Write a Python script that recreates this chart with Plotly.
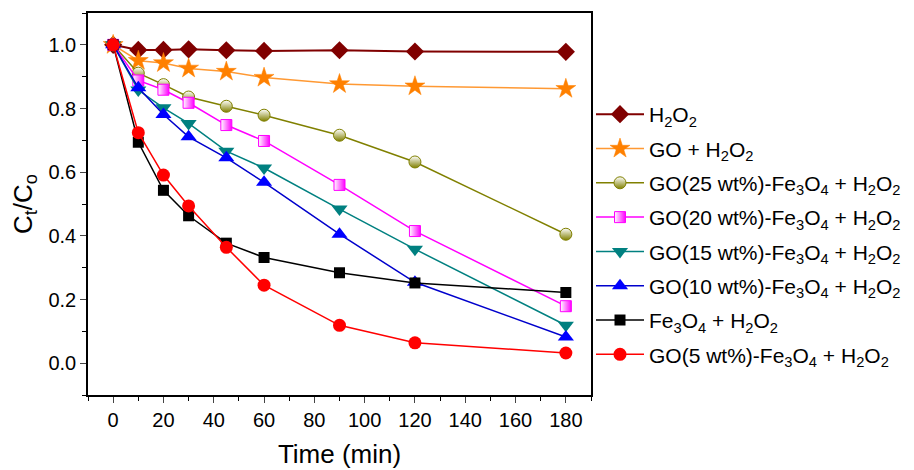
import plotly.graph_objects as go

time = [0, 10, 20, 30, 45, 60, 90, 120, 180]

names = [
    "H<sub>2</sub>O<sub>2</sub>",
    "GO + H<sub>2</sub>O<sub>2</sub>",
    "GO(25 wt%)-Fe<sub>3</sub>O<sub>4</sub> + H<sub>2</sub>O<sub>2</sub>",
    "GO(20 wt%)-Fe<sub>3</sub>O<sub>4</sub> + H<sub>2</sub>O<sub>2</sub>",
    "GO(15 wt%)-Fe<sub>3</sub>O<sub>4</sub> + H<sub>2</sub>O<sub>2</sub>",
    "GO(10 wt%)-Fe<sub>3</sub>O<sub>4</sub> + H<sub>2</sub>O<sub>2</sub>",
    "Fe<sub>3</sub>O<sub>4</sub> + H<sub>2</sub>O<sub>2</sub>",
    "GO(5 wt%)-Fe<sub>3</sub>O<sub>4</sub> + H<sub>2</sub>O<sub>2</sub>",
]

h2o2 = [1.0, 0.984, 0.984, 0.986, 0.983, 0.981, 0.983, 0.979, 0.978]
go_h2o2 = [1.0, 0.950, 0.943, 0.926, 0.916, 0.897, 0.877, 0.870, 0.862]
go25 = [1.0, 0.911, 0.875, 0.836, 0.807, 0.779, 0.716, 0.632, 0.405]
go20 = [1.0, 0.888, 0.859, 0.818, 0.748, 0.698, 0.560, 0.415, 0.179]
go15 = [1.0, 0.858, 0.802, 0.753, 0.666, 0.613, 0.484, 0.358, 0.119]
go10 = [1.0, 0.865, 0.781, 0.711, 0.645, 0.568, 0.405, 0.254, 0.082]
fe3o4 = [1.0, 0.694, 0.543, 0.463, 0.377, 0.332, 0.284, 0.252, 0.222]
go5 = [1.0, 0.724, 0.591, 0.494, 0.364, 0.245, 0.119, 0.064, 0.032]

series = [h2o2, go_h2o2, go25, go20, go15, go10, fe3o4, go5]

styles = [
    dict(line="#800000", lw=2, marker=dict(symbol="diamond", size=14, color="#800000")),
    dict(line="#FF9933", lw=1.5, marker=dict(symbol="star", size=15, color="#FF8000",
                                             line=dict(color="#FF8000", width=0.5))),
    dict(line="#808000", lw=1.5, marker=dict(symbol="circle", size=12, color="white",
                                             gradient=dict(type="vertical", color="#808000"),
                                             line=dict(color="#808000", width=1))),
    dict(line="#FF00FF", lw=1.5, marker=dict(symbol="square", size=11, color="white",
                                             gradient=dict(type="horizontal", color="#FF00FF"),
                                             line=dict(color="#FF00FF", width=1))),
    dict(line="#008080", lw=1.5, marker=dict(symbol="triangle-down", size=14, color="#008080")),
    dict(line="#0000CC", lw=1.5, marker=dict(symbol="triangle-up", size=14, color="#0000FF")),
    dict(line="#000000", lw=1.5, marker=dict(symbol="square", size=11, color="#000000")),
    dict(line="#FF0000", lw=1.5, marker=dict(symbol="circle", size=13, color="#FF0000")),
]

fig = go.Figure()
for i, (nm, ys, st) in enumerate(zip(names, series, styles)):
    fig.add_trace(go.Scatter(
        x=time, y=ys, name=nm, mode="lines+markers",
        line=dict(color=st["line"], width=st["lw"]),
        marker=st["marker"], legendgroup=str(i),
    ))

font = "Arial, Liberation Sans, sans-serif"
fig.update_layout(
    width=906, height=462,
    margin=dict(l=80, r=323, t=5, b=75, autoexpand=False),
    plot_bgcolor="white", paper_bgcolor="white",
    font=dict(family=font, size=20, color="black"),
    showlegend=True,
    legend=dict(x=1.0, xanchor="left", y=0.42, yanchor="middle",
                font=dict(size=21, family=font), tracegroupgap=4,
                bgcolor="rgba(0,0,0,0)", itemwidth=48),
    xaxis=dict(range=[-10, 190], dtick=20, tick0=0, ticks="outside", ticklen=6,
               showgrid=False, zeroline=False, showline=True, linecolor="black",
               linewidth=1.5, mirror=True, tickfont=dict(size=20), automargin=False,
               minor=dict(dtick=10, ticks="outside", ticklen=4, tickcolor="black"),
               title=dict(text="Time (min)", font=dict(size=26))),
    yaxis=dict(range=[-0.1, 1.1], dtick=0.2, tick0=0, tickformat=".1f", ticks="outside",
               ticklen=6, showgrid=False, zeroline=False, showline=True, linecolor="black",
               linewidth=1.5, mirror=True, tickfont=dict(size=20), automargin=False,
               minor=dict(dtick=0.1, ticks="outside", ticklen=4, tickcolor="black"),
               title=dict(text="C<sub>t</sub>/C<sub>o</sub>", font=dict(size=26))),
)

fig.write_html("out.html")
